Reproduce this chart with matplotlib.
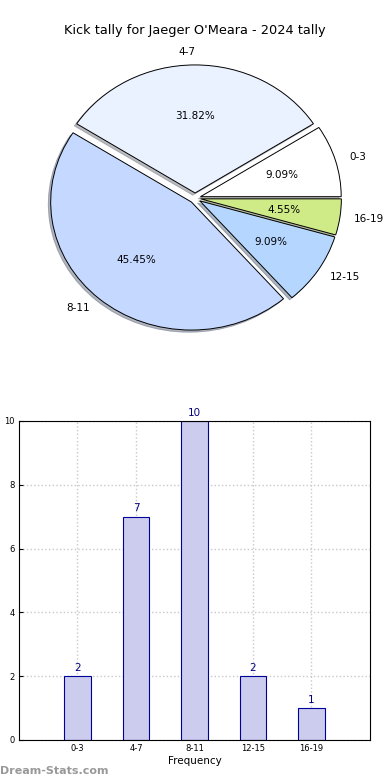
import matplotlib
matplotlib.use("Agg")
import matplotlib.pyplot as plt

# Kick tally data
ranges = ["0-3", "4-7", "8-11", "12-15", "16-19"]
tally = [2, 7, 10, 2, 1]
pie_colors = ["#ffffff", "#eaf1ff", "#c5d8ff", "#b5d6ff", "#cfeb88"]
explode = [0.04, 0.04, 0.04, 0.04, 0.04]

fig = plt.figure(figsize=(3.9, 7.8), dpi=100)

# Pie chart
ax1 = fig.add_axes([0.0167, 0.526, 0.967, 0.44])
wedges, texts, autotexts = ax1.pie(tally, labels=ranges, colors=pie_colors, explode=explode,
                                   autopct="%.2f%%", shadow={"ox": -0.012, "oy": -0.012, "shade": 0.5},
                                   startangle=0,
                                   wedgeprops={"edgecolor": "black", "linewidth": 0.7},
                                   textprops={"fontsize": 7.5})
ax1.set_aspect("auto")
ax1.set_xlim(-1.34, 1.34)
ax1.set_ylim(-1.34, 1.34)
fig.text(0.5, 0.961, "Kick tally for Jaeger O'Meara - 2024 tally", ha="center", va="center", fontsize=9.3)

# Bar chart
ax2 = fig.add_axes([0.0487, 0.0513, 0.9, 0.409])
pos = list(range(len(ranges)))
bars = ax2.bar(pos, tally, width=0.45, color="#ccccee", edgecolor="#000099", linewidth=0.8, zorder=2)
for x, v in zip(pos, tally):
    ax2.text(x, v + 0.1, str(v), ha="center", va="bottom", fontsize=7.5, color="#000080")
ax2.set_xlim(-1, 5)
ax2.set_ylim(0, 10)
ax2.set_xticks(pos)
ax2.set_xticklabels(ranges)
ax2.set_yticks([0, 2, 4, 6, 8, 10])
ax2.tick_params(labelsize=6, length=3, direction="in", pad=3)
ax2.grid(True, linestyle=":", color="#c8c8c8", linewidth=1.0, zorder=0)
ax2.set_xlabel("Frequency", fontsize=7.5, labelpad=2)
ax2.set_ylabel("Total Kick Tally", fontsize=6.5)
ax2.yaxis.set_label_coords(-0.05, 0.5)

fig.text(0.0, 0.012, "Dream-Stats.com", ha="left", va="center", fontsize=8, color="#999999", fontweight="bold")

fig.savefig("out.png", dpi=100)
